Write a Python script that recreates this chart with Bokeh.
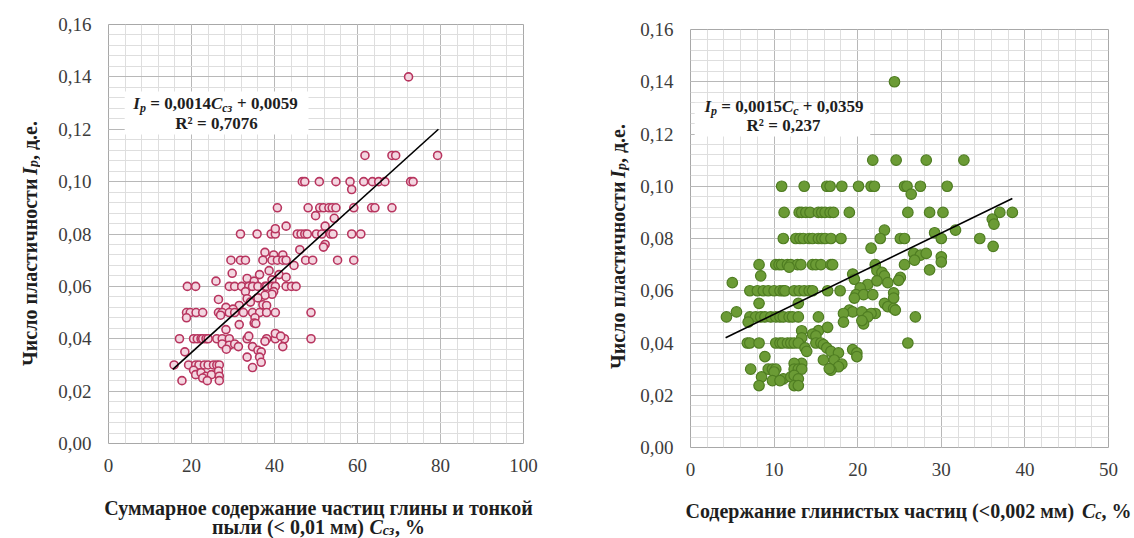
import math
from bokeh.plotting import figure
from bokeh.models import Range1d, FixedTicker, CustomJSTickFormatter, Label, BoxAnnotation, ColumnDataSource
from bokeh.layouts import row, column
from bokeh.embed import file_html
from bokeh.resources import INLINE

# ---------------- data ----------------
left_x = [
    72.3,
    61.8, 68.3, 69.2, 79.3,
    46.7, 47.3, 50.8, 54.8, 58.2, 61.5, 63.6, 65.1, 66.6, 72.8, 73.4,
    58.6,
    40.7, 48.1, 50.9, 51.8, 53.1, 53.9, 54.8, 59.1, 63.4, 64.2, 68.3,
    49.9, 54.4, 42.8, 52.2,
    31.8, 35.8, 39.2, 40.2, 45.5, 46.4, 47.3, 47.9, 50.1, 51.4, 53.5, 54.1, 58.6, 60.8,
    40.2, 52.2, 51.8, 37.7, 42.0, 39.8, 44.7, 46.1,
    29.5, 31.8, 33.0, 37.2, 39.4, 40.7, 42.0, 42.8, 47.5, 49.2, 55.2, 59.1,
    29.8, 36.4, 38.7, 39.4, 41.1, 42.8, 33.4, 35.1,
    19.0, 21.0, 29.1, 30.4, 32.1, 33.8, 34.7, 36.0, 37.7, 38.1, 39.4, 40.2, 42.8, 44.1, 45.2,
    25.9, 33.0, 39.8, 39.4, 26.5, 33.4, 37.7, 36.0, 28.3, 31.5, 34.2, 37.2, 38.1, 30.0,
    18.8, 19.7, 21.1, 22.7, 26.5, 27.4, 29.1, 30.4, 32.5, 34.7, 36.4, 38.1, 40.2, 48.8,
    18.8, 27.0, 35.3, 35.1, 31.5, 28.3, 35.5,
    17.1, 20.5, 21.4, 22.3, 22.7, 23.5, 24.0, 26.1, 27.4, 29.1, 33.4, 38.1, 40.2, 42.4, 48.8,
    40.2, 41.5, 33.8, 27.4, 29.1, 30.4, 31.3, 37.7, 28.4, 42.0, 34.7, 36.0, 36.8, 18.4, 33.4, 36.4, 36.8,
    15.8, 19.3, 21.0, 21.8, 23.1, 24.0, 25.3, 26.1, 26.7,
    34.7, 20.5, 21.0, 22.3, 23.5, 24.8, 26.5, 26.7, 22.7, 17.7, 23.8, 26.7,
]
left_y = [
    0.140,
    0.11, 0.11, 0.11, 0.11,
    0.10, 0.10, 0.10, 0.10, 0.10, 0.10, 0.10, 0.10, 0.10, 0.10, 0.10,
    0.097,
    0.09, 0.09, 0.09, 0.09, 0.09, 0.09, 0.09, 0.09, 0.09, 0.09, 0.09,
    0.087, 0.086, 0.083, 0.083,
    0.08, 0.08, 0.08, 0.08, 0.08, 0.08, 0.08, 0.08, 0.08, 0.08, 0.08, 0.08, 0.08, 0.08,
    0.082, 0.076, 0.075, 0.073, 0.072, 0.072, 0.068, 0.074,
    0.07, 0.07, 0.07, 0.07, 0.07, 0.07, 0.07, 0.07, 0.07, 0.07, 0.07, 0.07,
    0.065, 0.0645, 0.066, 0.0625, 0.0645, 0.0635, 0.063, 0.062,
    0.06, 0.06, 0.06, 0.06, 0.06, 0.06, 0.06, 0.06, 0.06, 0.06, 0.06, 0.06, 0.06, 0.06, 0.06,
    0.062, 0.058, 0.058, 0.057, 0.055, 0.0553, 0.0566, 0.0556, 0.052, 0.0527, 0.054, 0.053, 0.0527, 0.0513,
    0.05, 0.05, 0.05, 0.05, 0.05, 0.05, 0.05, 0.05, 0.05, 0.05, 0.05, 0.05, 0.05, 0.05,
    0.048, 0.049, 0.048, 0.046, 0.0454, 0.0435, 0.0458,
    0.04, 0.04, 0.04, 0.04, 0.04, 0.04, 0.04, 0.04, 0.04, 0.04, 0.04, 0.04, 0.04, 0.04, 0.04,
    0.042, 0.041, 0.041, 0.038, 0.0375, 0.038, 0.037, 0.039, 0.036, 0.037, 0.037, 0.0356, 0.035, 0.035, 0.033, 0.033, 0.031,
    0.03, 0.03, 0.03, 0.03, 0.03, 0.03, 0.03, 0.03, 0.03,
    0.029, 0.028, 0.0263, 0.027, 0.0257, 0.0263, 0.0277, 0.0257, 0.025, 0.024, 0.024, 0.024,
]
left_trend_x = [15.5, 79.5]
left_trend_y = [0.0283, 0.1200]

right_x = [
    24.4,
    21.8, 24.6, 28.2, 32.7,
    10.9, 13.6, 16.3, 16.7, 18.1, 20.1, 21.6, 22.0, 25.6, 25.9, 27.5, 30.7,
    26.4,
    11.2, 13.0, 13.3, 13.8, 14.3, 15.3, 15.7, 16.1, 16.7, 17.1, 19.0, 26.0, 28.6, 30.2, 37.0, 38.5,
    36.1, 36.3, 23.2, 31.7, 29.2,
    11.1, 12.6, 13.1, 13.5, 14.2, 14.6, 15.3, 15.7, 16.1, 16.8, 18.0, 22.7, 25.1, 25.6, 30.0, 34.6,
    36.2, 21.6, 26.7, 27.5, 28.2, 30.0, 26.8, 30.0,
    8.2, 10.2, 10.6, 10.9, 11.6, 12.0, 12.8, 13.2, 14.6, 15.0, 15.6, 16.8, 17.0, 22.1, 25.6,
    11.8, 28.6, 22.3, 22.9, 19.4, 8.4, 19.6, 23.2, 25.1, 24.9, 23.6, 5.0, 21.2, 22.3,
    7.1, 8.0, 8.7, 9.3, 10.0, 10.7, 11.1, 11.3, 12.4, 13.0, 13.6, 14.2, 14.6, 16.4, 17.9,
    20.3, 19.8, 20.7, 21.8, 24.3, 24.3, 19.6,
    8.2, 12.9, 23.2, 23.6, 24.3, 24.5, 19.0, 19.4, 5.5, 18.3, 20.5, 22.1, 21.6,
    4.3, 7.1, 7.8, 8.4, 8.9, 9.6, 10.2, 10.7, 11.1, 11.8, 12.2, 12.9, 15.3, 21.2, 26.9,
    6.9, 18.3, 20.7, 20.5, 13.3, 15.3, 16.4, 14.6, 15.0, 13.3,
    6.8, 7.1, 8.2, 10.2, 10.7, 11.0, 11.6, 12.0, 12.4, 12.9, 15.0, 15.6, 26.0,
    15.9, 16.3, 13.7, 13.9, 16.8, 17.7, 19.4, 19.9, 19.9, 8.9, 15.9, 17.2, 13.3, 18.1, 12.4, 17.7, 16.8, 16.6,
    7.2, 9.3, 9.8, 10.2, 12.4, 12.9, 13.3,
    8.5, 10.0, 9.8, 11.1, 12.0, 12.4, 12.9, 8.2, 12.4, 12.9, 10.7,
]
right_y = [
    0.140,
    0.11, 0.11, 0.11, 0.11,
    0.10, 0.10, 0.10, 0.10, 0.10, 0.10, 0.10, 0.10, 0.10, 0.10, 0.10, 0.10,
    0.097,
    0.09, 0.09, 0.09, 0.09, 0.09, 0.09, 0.09, 0.09, 0.09, 0.09, 0.09, 0.09, 0.09, 0.09, 0.09, 0.09,
    0.0874, 0.0855, 0.0832, 0.0832, 0.0822,
    0.08, 0.08, 0.08, 0.08, 0.08, 0.08, 0.08, 0.08, 0.08, 0.08, 0.08, 0.08, 0.08, 0.08, 0.08, 0.08,
    0.077, 0.0763, 0.0743, 0.0736, 0.0743, 0.073, 0.0717, 0.071,
    0.07, 0.07, 0.07, 0.07, 0.07, 0.07, 0.07, 0.07, 0.07, 0.07, 0.07, 0.07, 0.07, 0.07, 0.07,
    0.069, 0.068, 0.0677, 0.067, 0.0664, 0.0657, 0.0644, 0.0657, 0.0651, 0.064, 0.0631, 0.0631, 0.0624, 0.0638,
    0.06, 0.06, 0.06, 0.06, 0.06, 0.06, 0.06, 0.06, 0.06, 0.06, 0.06, 0.06, 0.06, 0.06, 0.06,
    0.0611, 0.0585, 0.0585, 0.0585, 0.0592, 0.0572, 0.0572,
    0.0552, 0.0552, 0.0552, 0.0539, 0.0532, 0.0526, 0.0526, 0.0519, 0.0519, 0.0513, 0.0519, 0.0513, 0.0513,
    0.05, 0.05, 0.05, 0.05, 0.05, 0.05, 0.05, 0.05, 0.05, 0.05, 0.05, 0.05, 0.05, 0.05, 0.05,
    0.048, 0.048, 0.0473, 0.0486, 0.0447, 0.0447, 0.046, 0.0434, 0.0427, 0.042,
    0.04, 0.04, 0.04, 0.04, 0.04, 0.04, 0.04, 0.04, 0.04, 0.04, 0.04, 0.04, 0.04,
    0.0394, 0.0381, 0.0381, 0.0368, 0.0368, 0.0362, 0.0375, 0.0362, 0.0348, 0.0348, 0.0335, 0.0335, 0.0322, 0.0319, 0.0322, 0.0309, 0.0296, 0.0302,
    0.03, 0.03, 0.03, 0.03, 0.03, 0.03, 0.03,
    0.027, 0.0289, 0.0256, 0.0263, 0.027, 0.0276, 0.0263, 0.0237, 0.0237, 0.0237, 0.0256,
]
right_trend_x = [4.2, 38.5]
right_trend_y = [0.0420, 0.0953]

y_ticks = [0.0, 0.02, 0.04, 0.06, 0.08, 0.10, 0.12, 0.14, 0.16]
left_x_ticks = [0, 20, 40, 60, 80, 100]
right_x_ticks = [0, 10, 20, 30, 40, 50]

assert len(left_x) == len(left_y)
assert len(right_x) == len(right_y)

# ---------------- text helpers ----------------
FONT = "Liberation Serif"
TXT = "#1e1e1e"
CW = {
    " ": .25, ",": .25, ".": .25, "(": .333, ")": .333, "<": .57, "%": 1.0, "=": .57, "+": .57,
    "0": .5, "1": .5, "2": .5, "3": .5, "4": .5, "5": .5, "6": .5, "7": .5, "8": .5, "9": .5,
    "R": .722, "²": .3, "I": .389, "p": .5, "C": .667,
    "а": .5, "б": .5, "в": .53, "г": .43, "д": .56, "е": .44, "ж": .8, "з": .43, "и": .58,
    "й": .58, "к": .55, "л": .56, "м": .7, "н": .58, "о": .5, "п": .58, "р": .56, "с": .44,
    "т": .46, "у": .5, "х": .5, "ц": .58, "ч": .56, "ш": .84, "щ": .84, "ы": .76, "ь": .5,
    "я": .55, "С": .72, "Ч": .73,
}


def tw(s, size):
    return sum(CW.get(c, .5) for c in s) * size


def put(p, x, y, text, size, style="bold", angle=0.0, align="left"):
    p.add_layout(Label(x=x, y=y, x_units="screen", y_units="screen", text=text,
                       text_font=FONT, text_font_size=f"{size}px", text_font_style=style,
                       text_color=TXT, angle=angle, text_align=align,
                       text_baseline="alphabetic"))


def seg_width(segs):
    return sum(tw(t, s) for t, s, _, _ in segs)


def rich_h(p, x0, y, segs):
    x = x0
    for t, s, st, dy in segs:
        lead = tw(t[:len(t) - len(t.lstrip(" "))], s)
        put(p, x + lead, y + dy, t.strip(" "), s, st)
        x += tw(t, s)


def rich_v(p, x, y0, segs):
    y = y0
    for t, s, st, dx in segs:
        lead = tw(t[:len(t) - len(t.lstrip(" "))], s)
        put(p, x + dx, y + lead, t.strip(" "), s, st, angle=math.pi / 2)
        y += tw(t, s)


def text_fig(width, height):
    p = figure(width=width, height=height, x_range=Range1d(0, 1), y_range=Range1d(0, 1),
               x_axis_type=None, y_axis_type=None, output_backend="svg", toolbar_location=None,
               min_border_left=0, min_border_right=0, min_border_top=0, min_border_bottom=0)
    p.grid.visible = False
    p.outline_line_color = None
    p.background_fill_color = "white"
    p.border_fill_color = "white"
    return p


def make_fig(width, height, x_ticks, minor_step, bl, br, bt, bb):
    p = figure(width=width, height=height,
               x_range=Range1d(x_ticks[0], x_ticks[-1]), y_range=Range1d(0, 0.16),
               output_backend="svg", toolbar_location=None,
               min_border_left=bl, min_border_right=br, min_border_top=bt, min_border_bottom=bb)
    x_minor = [x_ticks[0] + i * minor_step for i in range(int((x_ticks[-1] - x_ticks[0]) / minor_step) + 1)]
    y_minor = [i * 0.004 for i in range(41)]
    xt = FixedTicker(ticks=x_ticks, minor_ticks=x_minor)
    yt = FixedTicker(ticks=y_ticks, minor_ticks=y_minor)
    p.xaxis.ticker = xt
    p.yaxis.ticker = yt
    p.xgrid.ticker = xt
    p.ygrid.ticker = yt
    for g in (p.xgrid, p.ygrid):
        g.grid_line_color = "#b8b8b8"
        g.grid_line_width = 1
        g.minor_grid_line_color = "#dedede"
        g.minor_grid_line_width = 1
    p.yaxis.formatter = CustomJSTickFormatter(code="return tick.toFixed(2).replace('.', ',');")
    p.xaxis.formatter = CustomJSTickFormatter(code="return tick.toFixed(0);")
    for ax in (p.xaxis, p.yaxis):
        ax.axis_line_color = None
        ax.major_tick_line_color = None
        ax.minor_tick_line_color = None
        ax.major_tick_out = 0
        ax.major_tick_in = 0
        ax.minor_tick_out = 0
        ax.minor_tick_in = 0
        ax.major_label_text_font = FONT
        ax.major_label_text_font_size = "19px"
        ax.major_label_text_color = "#3c3c3c"
    p.yaxis.major_label_standoff = 17
    p.xaxis.major_label_standoff = 15
    p.outline_line_color = "#a8a8a8"
    p.background_fill_color = "white"
    p.border_fill_color = "white"
    return p


TOP_H = 486
BOT_H = 538 - TOP_H
L_FRAME_BOTTOM = 443
R_FRAME_BOTTOM = 447

yl = [("Число пластичности ", 20, "bold", 0), ("I", 20, "bold italic", 0),
      ("p", 14, "bold italic", 4), (", д.е.", 20, "bold", 0)]

# ---------------- left chart ----------------
# (the label figure's frame is aligned with the chart frame by the row layout)
yl_l = text_fig(40, TOP_H)
rich_v(yl_l, 29, (L_FRAME_BOTTOM - 242.5) - seg_width(yl) / 2, yl)

pl = make_fig(527, TOP_H, left_x_ticks, 4, 68, 44, 24, TOP_H - L_FRAME_BOTTOM)
src_l = ColumnDataSource(dict(x=left_x, y=left_y))
pl.scatter("x", "y", source=src_l, size=8, marker="circle",
           fill_color="#f3d6e0", line_color="#b8355f", line_width=1.6)
pl.line(left_trend_x, left_trend_y, line_color="black", line_width=1.6)
pl.add_layout(BoxAnnotation(left=3.9, right=48.2, bottom=0.118, top=0.1344,
                            fill_color="white", fill_alpha=1.0, line_color=None))
eq_l = [("I", 17, "bold italic", 0), ("p", 12, "bold italic", -4), (" = 0,0014", 17, "bold", 0),
        ("C", 17, "bold italic", 0), ("сз", 12, "bold italic", -4), (" + 0,0059", 17, "bold", 0)]
rich_h(pl, 107 - seg_width(eq_l) / 2, 340, eq_l)
put(pl, 108, 320, "R² = 0,7076", 17, "bold", align="center")

xl_l = text_fig(567, BOT_H)
put(xl_l, 318, 538 - 507, "Суммарное содержание частиц глины и тонкой", 20, "bold", align="center")
xl2 = [("пыли (< 0,01 мм) ", 20, "bold", 0), ("C", 20, "bold italic", 0),
       ("сз", 14, "bold italic", -4), (", %", 20, "bold", 0)]
rich_h(xl_l, 318 - seg_width(xl2) / 2, 538 - 526, xl2)

# ---------------- right chart ----------------
yl_r = text_fig(68, TOP_H)
rich_v(yl_r, 50, (R_FRAME_BOTTOM - 245.5) - seg_width(yl) / 2, yl)

pr = make_fig(499, TOP_H, right_x_ticks, 2, 55, 26, 29, TOP_H - R_FRAME_BOTTOM)
src_r = ColumnDataSource(dict(x=right_x, y=right_y))
pr.scatter("x", "y", source=src_r, size=10.5, marker="circle",
           fill_color="#6b9b35", line_color="#4f7d22", line_width=1.2)
pr.line(right_trend_x, right_trend_y, line_color="black", line_width=1.6)
pr.add_layout(BoxAnnotation(left=0.5, right=21.5, bottom=0.119, top=0.132,
                            fill_color="white", fill_alpha=1.0, line_color=None))
eq_r = [("I", 17, "bold italic", 0), ("p", 12, "bold italic", -4), (" = 0,0015", 17, "bold", 0),
        ("C", 17, "bold italic", 0), ("с", 12, "bold italic", -4), (" + 0,0359", 17, "bold", 0)]
rich_h(pr, 93.5 - seg_width(eq_r) / 2, 341, eq_r)
put(pr, 93, 322, "R² = 0,237", 17, "bold", align="center")

xl_r = text_fig(567, BOT_H)
xr = [("Содержание глинистых частиц (<0,002 мм) ", 20, "bold", 0), ("C", 20, "bold italic", 0),
      ("с", 14, "bold italic", -4), (", %", 20, "bold", 0)]
rich_h(xl_r, (1131 - 567) - seg_width(xr), 538 - 510, xr)

left_block = column(row(yl_l, pl), xl_l)
right_block = column(row(yl_r, pr), xl_r)
layout = row(left_block, right_block)
open("out.html", "w").write(file_html(layout, INLINE))
